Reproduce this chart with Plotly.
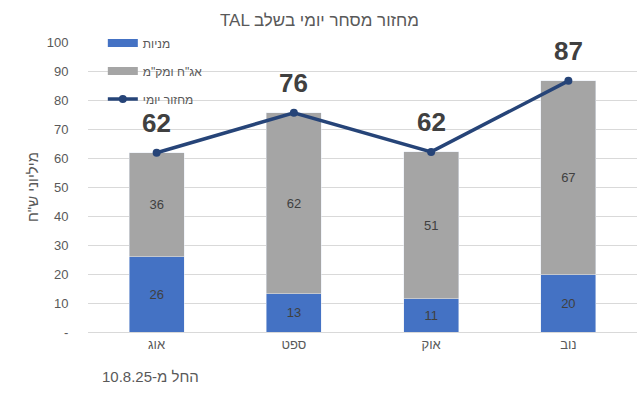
import plotly.graph_objects as go

months = ["אוג", "ספט", "אוק", "נוב"]
stocks = [25.9, 13.2, 11.4, 19.8]
bonds = [35.9, 62.4, 50.7, 66.8]
totals = [round(a + b, 1) for a, b in zip(stocks, bonds)]
total_labels = ["62", "76", "62", "87"]
ytick_vals = [0, 10, 20, 30, 40, 50, 60, 70, 80, 90, 100]
ytick_text = ["-", "10", "20", "30", "40", "50", "60", "70", "80", "90", "100"]

BLUE = "#4472C4"
GRAY = "#A5A5A5"
NAVY = "#264478"
TXT = "#595959"
FONT = "Liberation Sans"

fig = go.Figure()
fig.add_trace(go.Bar(x=months, y=stocks, marker_color=BLUE, showlegend=False,
                     texttemplate="%{y:.0f}", textposition="inside", insidetextanchor="middle",
                     textfont=dict(color="#404040", size=13, family=FONT), width=0.4))
fig.add_trace(go.Bar(x=months, y=bonds, marker_color=GRAY, showlegend=False,
                     texttemplate="%{y:.0f}", textposition="inside", insidetextanchor="middle",
                     textfont=dict(color="#404040", size=13, family=FONT), width=0.4))
# legend proxies
fig.add_trace(go.Scatter(x=[None], y=[None], mode="lines", line=dict(color=BLUE, width=8),
                         name="מניות", legendgroup="a"))
fig.add_trace(go.Scatter(x=[None], y=[None], mode="lines", line=dict(color=GRAY, width=8),
                         name='אג"ח ומק"מ', legendgroup="b"))
fig.add_trace(go.Scatter(x=months, y=totals, mode="lines+markers", name="מחזור יומי",
                         legendgroup="c",
                         line=dict(color=NAVY, width=3.5), marker=dict(size=8, color=NAVY)))

annotations = [dict(x=m, y=t, text=lbl, xref="x", yref="y", showarrow=False, yshift=30,
                    font=dict(size=26, color="#404040", family=FONT, weight="bold"))
               for m, t, lbl in zip(months, totals, total_labels)]
annotations.append(dict(text="החל מ-10.8.25", xref="paper", yref="paper", x=0.022, y=-0.152,
                        xanchor="left", yanchor="middle", showarrow=False,
                        font=dict(size=15, color=TXT)))

fig.update_layout(
    width=639, height=397,
    barmode="stack",
    paper_bgcolor="white", plot_bgcolor="white",
    font=dict(family=FONT, color=TXT, size=12),
    margin=dict(l=88, r=2, t=42, b=65, autoexpand=False),
    title=dict(text="TAL מחזור מסחר יומי בשלב", x=0.5, xanchor="center", y=0.95, yanchor="middle",
               font=dict(size=17, color=TXT, family=FONT)),
    legend=dict(xref="paper", yref="container", x=0.027, y=0.928, xanchor="left", yanchor="top",
                bgcolor="rgba(0,0,0,0)",
                font=dict(size=12, color=TXT), tracegroupgap=9, itemwidth=30),
    xaxis=dict(showgrid=False, showline=True, linecolor="#D9D9D9", ticks="", automargin=False,
               tickfont=dict(size=13, color=TXT), range=[-0.5, 3.5]),
    yaxis=dict(range=[0, 100], tickvals=ytick_vals, ticktext=ytick_text, showgrid=True,
               gridcolor="#D9D9D9", gridwidth=1, zeroline=False, ticks="outside", ticklen=16,
               automargin=False,
               tickcolor="rgba(0,0,0,0)", tickfont=dict(size=13, color=TXT),
               title=dict(text='מיליוני ש"ח', font=dict(size=15, color=TXT), standoff=4)),
    annotations=annotations,
)

fig.write_html("out.html", config={"displayModeBar": False},
               post_script="document.body.style.margin='0';")
